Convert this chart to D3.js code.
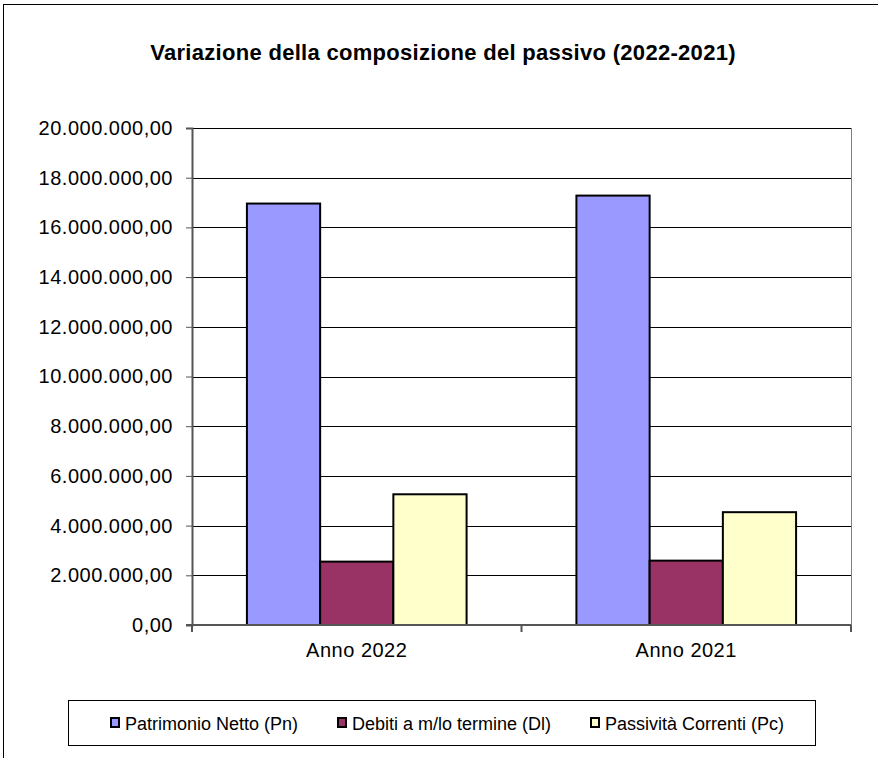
<!DOCTYPE html>
<html>
<head>
<meta charset="utf-8">
<script src="https://cdn.jsdelivr.net/npm/d3@7"></script>
<style>
  body { margin: 0; background: #fff; }
  text { font-family: "Liberation Sans", Arial, sans-serif; fill: #000; }
</style>
</head>
<body>
<div id="chart"></div>
<script>
const WIDTH = 878;
const HEIGHT = 758;

// data
var categories = ["Anno 2022", "Anno 2021"];
var seriesNames = ["Patrimonio Netto (Pn)", "Debiti a m/lo termine (Dl)", "Passività Correnti (Pc)"];
var patrimonioNetto = [16960000, 17280000];
var debitiLungo = [2550000, 2590000];
var passivitaCorrenti = [5260000, 4540000];
var yTicks = [0, 2e6, 4e6, 6e6, 8e6, 10e6, 12e6, 14e6, 16e6, 18e6, 20e6];

var colors = ["#9999ff", "#993366", "#ffffcc"];
var seriesValues = [patrimonioNetto, debitiLungo, passivitaCorrenti];

var it = d3.formatLocale({ decimal: ",", thousands: ".", grouping: [3], currency: ["€", ""] });
var fmt = it.format(",.2f");

var svg = d3.select("#chart").append("svg")
    .attr("width", WIDTH)
    .attr("height", HEIGHT);

// outer chart frame, runs off the right/bottom edges like the source
svg.append("rect")
    .attr("x", 3.5).attr("y", 4.5)
    .attr("width", 900).attr("height", 900)
    .attr("fill", "#fff")
    .attr("stroke", "#000")
    .attr("stroke-width", 1);

svg.append("text")
    .attr("x", 443).attr("y", 60)
    .attr("text-anchor", "middle")
    .attr("font-weight", "bold")
    .attr("font-size", 22)
    .attr("letter-spacing", 0.3)
    .text("Variazione della composizione del passivo (2022-2021)");

var plot = { left: 192, right: 851, top: 128, bottom: 625 };

var y = d3.scaleLinear().domain([0, 20e6]).range([plot.bottom, plot.top]);
var x0 = d3.scaleBand().domain(categories).range([plot.left, plot.right]).padding(0);
// gap width 150% -> outer padding of 0.75 bar on each side
var x1 = d3.scaleBand().domain(d3.range(seriesNames.length)).range([0, x0.bandwidth()])
    .paddingInner(0).paddingOuter(0.75);

// gridlines
svg.append("g")
  .selectAll("line")
  .data(yTicks.filter(d => d > 0))
  .join("line")
    .attr("x1", plot.left).attr("x2", plot.right)
    .attr("y1", d => Math.round(y(d)) + 0.5)
    .attr("y2", d => Math.round(y(d)) + 0.5)
    .attr("stroke", "#000")
    .attr("stroke-width", 1);

svg.append("line")
    .attr("x1", plot.right + 0.5).attr("x2", plot.right + 0.5)
    .attr("y1", plot.top).attr("y2", plot.bottom)
    .attr("stroke", "#808080");

// bars
var groups = svg.append("g")
  .selectAll("g")
  .data(categories)
  .join("g")
    .attr("transform", d => "translate(" + x0(d) + ",0)");

groups.selectAll("rect")
  .data((c, i) => seriesValues.map((s, k) => ({ k: k, v: s[i] })))
  .join("rect")
    .attr("x", d => x1(d.k))
    .attr("y", d => y(d.v))
    .attr("width", x1.bandwidth())
    .attr("height", d => y(0) - y(d.v))
    .attr("fill", d => colors[d.k])
    .attr("stroke", "#000")
    .attr("stroke-width", 2);

// y axis
var yAxis = d3.axisLeft(y).tickValues(yTicks).tickFormat(fmt).tickSize(6).tickPadding(13);
var gy = svg.append("g")
    .attr("transform", "translate(" + plot.left + ",0)")
    .call(yAxis);
gy.select(".domain").attr("stroke", "#555").attr("stroke-width", 2);
gy.selectAll(".tick line").attr("stroke", "#555");
gy.selectAll(".tick text")
    .attr("font-family", "Liberation Sans, Arial, sans-serif")
    .attr("font-size", 20)
    .attr("letter-spacing", 0.5)
    .attr("fill", "#000");

// x axis
var gx = svg.append("g")
    .attr("transform", "translate(0," + plot.bottom + ")");
gx.append("line")
    .attr("x1", plot.left - 6).attr("x2", plot.right)
    .attr("y1", 0).attr("y2", 0)
    .attr("stroke", "#555").attr("stroke-width", 2);
gx.selectAll(".cat-tick")
  .data(categories.map(c => x0(c)).concat([plot.right]))
  .join("line")
    .attr("class", "cat-tick")
    .attr("x1", d => d).attr("x2", d => d)
    .attr("y1", 0).attr("y2", 7)
    .attr("stroke", "#555").attr("stroke-width", 2);
gx.selectAll("text")
  .data(categories)
  .join("text")
    .attr("x", d => x0(d) + x0.bandwidth() / 2)
    .attr("y", 32)
    .attr("text-anchor", "middle")
    .attr("font-size", 20)
    .attr("letter-spacing", 0.5)
    .text(d => d);

// legend
var legend = svg.append("g");
legend.append("rect")
    .attr("x", 68.5).attr("y", 700.5)
    .attr("width", 747).attr("height", 45)
    .attr("fill", "#fff")
    .attr("stroke", "#000");
var legendX = [111, 338, 591];
var items = legend.selectAll(".item")
  .data(seriesNames)
  .join("g")
    .attr("class", "item")
    .attr("transform", (d, i) => "translate(" + legendX[i] + ",723)");
items.append("rect")
    .attr("x", 0).attr("y", -5)
    .attr("width", 8).attr("height", 9)
    .attr("fill", (d, i) => colors[i])
    .attr("stroke", "#000")
    .attr("stroke-width", 2);
items.append("text")
    .attr("x", 14).attr("y", 7)
    .attr("font-size", 18)
    .text(d => d);
</script>
</body>
</html>
